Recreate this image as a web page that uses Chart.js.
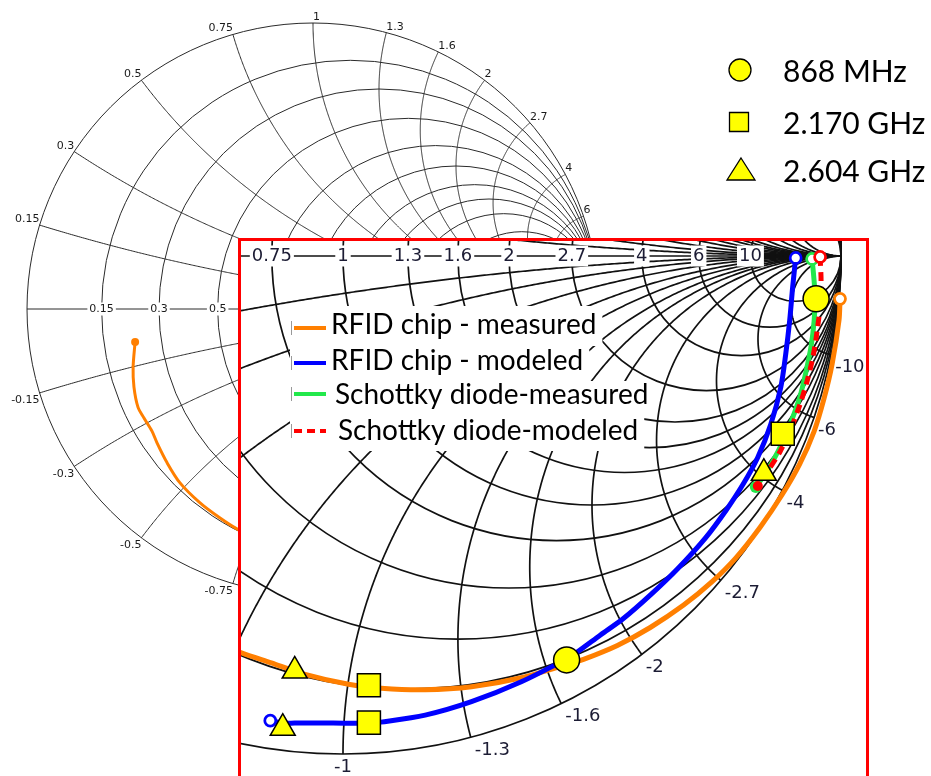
<!DOCTYPE html>
<html><head><meta charset="utf-8">
<script src="https://cdn.jsdelivr.net/npm/chart.js"></script>
<style>
html,body{margin:0;padding:0;background:#fff;overflow:hidden;width:931px;height:776px}
#main{position:absolute;left:0;top:0}
#insetBox{position:absolute;left:238px;top:238px;width:631px;height:560px;border:3px solid #ff0000;box-sizing:border-box;background:#fff;overflow:hidden}
#inset{position:absolute;left:0;top:0}
</style></head><body>
<canvas id="main" width="931" height="776"></canvas>
<div id="insetBox"><canvas id="inset" width="625" height="554"></canvas></div>
<script>
// ---------- data ----------
const resistanceValues = [0.15, 0.3, 0.5, 0.75, 1, 1.3, 1.6, 2, 2.7, 4, 6, 10];
const reactanceValues  = [0.15, 0.3, 0.5, 0.75, 1, 1.3, 1.6, 2, 2.7, 4, 6, 10];
const frequencyLabels = ['868 MHz', '2.170 GHz', '2.604 GHz'];
const seriesNames = ['RFID chip - measured', 'RFID chip - modeled', 'Schottky diode-measured', 'Schottky diode-modeled'];

const rfidMeasRe = [0.998, 0.996, 0.982, 0.966, 0.946, 0.917, 0.882, 0.838, 0.789, 0.740, 0.684, 0.617, 0.551, 0.483, 0.451, 0.358, 0.258, 0.165, 0.077, 0.011, -0.076, -0.144, -0.211, -0.266, -0.325, -0.395, -0.465, -0.510, -0.545, -0.563, -0.591, -0.612, -0.626, -0.629, -0.622];
const rfidMeasIm = [-0.086, -0.129, -0.218, -0.286, -0.352, -0.418, -0.479, -0.544, -0.606, -0.655, -0.701, -0.746, -0.782, -0.810, -0.820, -0.847, -0.865, -0.871, -0.868, -0.860, -0.840, -0.817, -0.794, -0.769, -0.731, -0.678, -0.608, -0.538, -0.469, -0.427, -0.381, -0.343, -0.273, -0.203, -0.115];

const rfidModRe = [0.909, 0.903, 0.897, 0.889, 0.879, 0.859, 0.833, 0.803, 0.769, 0.728, 0.672, 0.618, 0.563, 0.517, 0.471, 0.449, 0.358, 0.258, 0.165, 0.076, 0.052, -0.020, -0.097, -0.121, -0.146];
const rfidModIm = [-0.004, -0.062, -0.129, -0.197, -0.264, -0.338, -0.404, -0.459, -0.511, -0.566, -0.628, -0.680, -0.728, -0.761, -0.795, -0.809, -0.855, -0.895, -0.922, -0.936, -0.938, -0.938, -0.938, -0.938, -0.933];

const schMeasRe = [0.942, 0.946, 0.948, 0.946, 0.940, 0.930, 0.918, 0.902, 0.884, 0.863, 0.843, 0.829];
const schMeasIm = [-0.006, -0.050, -0.086, -0.131, -0.181, -0.231, -0.281, -0.327, -0.371, -0.412, -0.444, -0.464];

const schModRe = [0.958, 0.960, 0.958, 0.952, 0.944, 0.932, 0.918, 0.900, 0.878, 0.853, 0.833];
const schModIm = [-0.002, -0.050, -0.100, -0.151, -0.201, -0.251, -0.297, -0.345, -0.392, -0.432, -0.462];

// frequency markers: [RFID measured, RFID modeled, Schottky]
const m868Re  = [0.449, 0.950];
const m868Im  = [-0.811, -0.086];
const m2170Re = [0.052, 0.052, 0.883];
const m2170Im = [-0.862, -0.937, -0.357];
const m2604Re = [-0.097, -0.121, 0.845];
const m2604Im = [-0.833, -0.948, -0.436];

// ---------- helpers ----------
function pts(re, im) { return re.map((v, i) => ({ x: v, y: im[i] })); }
function gamma(r, x) { const d = (r + 1) * (r + 1) + x * x; return [(r * r - 1 + x * x) / d, 2 * x / d]; }
function fmt(v) { return String(v); }

function gridPlugin(cfg) {
  return {
    id: 'smithGrid',
    beforeDatasetsDraw(chart) {
      const { ctx, chartArea: a, scales } = chart;
      const X = scales.x, Y = scales.y;
      const px = v => X.getPixelForValue(v), py = v => Y.getPixelForValue(v);
      const k = px(1) - px(0);
      ctx.save();
      ctx.beginPath(); ctx.rect(a.left, a.top, a.right - a.left, a.bottom - a.top); ctx.clip();
      ctx.strokeStyle = cfg.gridColor; ctx.lineWidth = cfg.gridWidth;
      ctx.beginPath(); ctx.arc(px(0), py(0), k, 0, Math.PI * 2); ctx.stroke();
      resistanceValues.forEach(r => {
        ctx.beginPath(); ctx.arc(px(r / (1 + r)), py(0), k / (1 + r), 0, Math.PI * 2); ctx.stroke();
      });
      reactanceValues.forEach(xv => [1, -1].forEach(s => {
        ctx.beginPath();
        for (let i = 0; i <= 400; i++) {
          const t = i / 400 * Math.PI / 2 * 0.99995;
          const g = gamma(Math.tan(t), s * xv);
          if (i === 0) ctx.moveTo(px(g[0]), py(g[1])); else ctx.lineTo(px(g[0]), py(g[1]));
        }
        ctx.lineTo(px(1), py(0));
        ctx.stroke();
      }));
      ctx.beginPath(); ctx.moveTo(px(-1), py(0)); ctx.lineTo(px(1), py(0)); ctx.stroke();

      // labels
      ctx.font = cfg.font;
      resistanceValues.forEach(r => {
        const g = (r - 1) / (r + 1); const t = fmt(r);
        const w = ctx.measureText(t).width; const cx = px(g), cy = py(0);
        ctx.fillStyle = '#fff';
        ctx.fillRect(cx - w / 2 - cfg.pad, cy - cfg.boxH / 2, w + 2 * cfg.pad, cfg.boxH);
        ctx.fillStyle = cfg.textColor; ctx.textAlign = 'center'; ctx.textBaseline = 'middle';
        ctx.fillText(t, cx, cy + cfg.midShift);
      });
      reactanceValues.forEach(xv => {
        if (cfg.upper) {
          const g = gamma(0, xv); const x0 = px(g[0]), y0 = py(g[1]);
          ctx.fillStyle = cfg.textColor; ctx.textBaseline = 'alphabetic';
          if (g[0] < -0.02) { ctx.textAlign = 'right'; ctx.fillText(fmt(xv), x0 - cfg.upDx, y0 - cfg.upDy); }
          else { ctx.textAlign = 'left'; ctx.fillText(fmt(xv), x0 + cfg.upDx, y0 - cfg.upDy); }
        }
        const g = gamma(0, -xv); const x0 = px(g[0]), y0 = py(g[1]);
        ctx.fillStyle = cfg.textColor; ctx.textBaseline = 'top';
        const t = '-' + fmt(xv);
        if (g[0] < -0.02) { ctx.textAlign = 'right'; ctx.fillText(t, x0 - cfg.loDx, y0 + cfg.loDy); }
        else if (g[0] < 0.02 && cfg.centerZero) { ctx.textAlign = 'center'; ctx.fillText(t, x0, y0 + cfg.loDy); }
        else { ctx.textAlign = 'left'; ctx.fillText(t, x0 + cfg.loDx, y0 + cfg.loDy); }
      });
      ctx.restore();
    }
  };
}

const freqLegend = {
  id: 'freqLegend',
  afterDraw(chart) {
    const ctx = chart.ctx; ctx.save();
    const rows = [{ y: 70, base: 82 }, { y: 122, base: 134 }, { y: 170, base: 182 }];
    rows.forEach((r, i) => {
      ctx.fillStyle = '#ffff00'; ctx.strokeStyle = '#000'; ctx.lineWidth = 1.3; ctx.beginPath();
      if (i === 0) ctx.arc(740, r.y, 11, 0, 2 * Math.PI);
      else if (i === 1) ctx.rect(729.5, r.y - 9.5, 19, 19);
      else { ctx.moveTo(741, r.y - 12); ctx.lineTo(755, r.y + 10); ctx.lineTo(727, r.y + 10); ctx.closePath(); }
      ctx.fill(); ctx.stroke();
      ctx.fillStyle = '#000'; ctx.font = '30px Lato'; ctx.textAlign = 'left'; ctx.textBaseline = 'alphabetic';
      ctx.fillText(frequencyLabels[i], 783, r.base);
    });
    ctx.restore();
  }
};

const traceColors = ['#ff7f00', '#0000ff', '#22e84b', '#ff0000'];
const seriesLegend = {
  id: 'seriesLegend',
  afterDatasetsDraw(chart) {
    const ctx = chart.ctx; ctx.save();
    const o = 241;
    const rows = [
      { ly: 328, base: 334, tx: 331, top: 306, bot: 346 },
      { ly: 363, base: 370, tx: 331, top: 346, bot: 381 },
      { ly: 394, base: 404, tx: 335, top: 381, bot: 417 },
      { ly: 431, base: 440, tx: 338, top: 417, bot: 451 }
    ];
    ctx.font = '28px Lato';
    rows.forEach((r, i) => {
      const w = ctx.measureText(seriesNames[i]).width;
      ctx.fillStyle = '#fff';
      ctx.fillRect(290 - o, r.top - o, r.tx + w + 6 - 290, r.bot - r.top);
      ctx.strokeStyle = '#999'; ctx.lineWidth = 1; ctx.setLineDash([]);
      ctx.beginPath(); ctx.moveTo(291.5 - o, r.ly - 7 - o); ctx.lineTo(291.5 - o, r.ly + 7 - o); ctx.stroke();
      ctx.strokeStyle = traceColors[i]; ctx.lineWidth = 4;
      ctx.setLineDash(i === 3 ? [8, 5] : []);
      ctx.beginPath(); ctx.moveTo(294 - o, r.ly - o); ctx.lineTo(326 - o, r.ly - o); ctx.stroke();
      ctx.setLineDash([]);
      ctx.fillStyle = '#000'; ctx.textAlign = 'left'; ctx.textBaseline = 'alphabetic';
      ctx.fillText(seriesNames[i], r.tx - o, r.base - o);
    });
    ctx.restore();
  }
};

function traceDataset(idx, re, im, lw, ringR, endR, endRing, dash, order) {
  const n = re.length; const c = traceColors[idx];
  return {
    type: 'scatter', label: seriesNames[idx], showLine: true, data: pts(re, im),
    borderColor: c, backgroundColor: c, borderWidth: lw, borderDash: dash, tension: 0.3,
    pointRadius: ctx => ctx.dataIndex === 0 ? ringR : (ctx.dataIndex === n - 1 ? endR : 0),
    pointBackgroundColor: ctx => (ctx.dataIndex === 0 || (endRing && ctx.dataIndex === n - 1)) ? '#fff' : c,
    pointBorderColor: c,
    pointBorderWidth: ctx => (ctx.dataIndex === 0 || (endRing && ctx.dataIndex === n - 1)) ? Math.max(2, lw * 0.55) : 0,
    order: order
  };
}

function markerDataset(re, im, style, r, order) {
  return {
    type: 'scatter', data: pts(re, im), showLine: false, pointStyle: style, pointRadius: r,
    pointBackgroundColor: '#ffff00', pointBorderColor: '#000', pointBorderWidth: 1.5, order: order
  };
}

function makeChart(id, m, cfg, lw, ringR, endR, extraPlugins) {
  const xmin = (m.left - m.cx) / m.R, xmax = (m.left + m.w - m.cx) / m.R;
  const ymax = (m.cy - m.top) / m.R, ymin = (m.cy - m.top - m.h) / m.R;
  return new Chart(document.getElementById(id), {
    type: 'scatter',
    data: {
      datasets: [
        markerDataset(m868Re, m868Im, 'circle', 13, 1),
        markerDataset(m2170Re, m2170Im, 'rect', 16.3, 2),
        markerDataset(m2604Re, m2604Im, 'triangle', 14.4, 3),
        traceDataset(3, schModRe, schModIm, lw, ringR, ringR - 0.5, false, [lw * 1.8, lw * 1.2], 10),
        traceDataset(2, schMeasRe, schMeasIm, lw, ringR, ringR + 0.5, false, [], 11),
        traceDataset(1, rfidModRe, rfidModIm, lw, ringR, ringR, true, [], 12),
        traceDataset(0, rfidMeasRe, rfidMeasIm, lw, ringR, endR, false, [], 13)
      ]
    },
    options: {
      responsive: false, animation: false, events: [],
      layout: { padding: 0, autoPadding: false },
      scales: {
        x: { type: 'linear', min: xmin, max: xmax, display: false },
        y: { type: 'linear', min: ymin, max: ymax, display: false }
      },
      plugins: { legend: { display: false }, tooltip: { enabled: false } }
    },
    plugins: [gridPlugin(cfg)].concat(extraPlugins)
  });
}

makeChart('main', { cx: 313, cy: 309, R: 286, left: 0, top: 0, w: 931, h: 776 }, {
  gridColor: '#2a2a2a', gridWidth: 1, font: '11px "DejaVu Sans"', textColor: '#1a1a1a',
  pad: 2, boxH: 13, midShift: 0.5, upper: true, upDx: 0, upDy: 3, loDx: 0, loDy: 2, centerZero: false
}, 3, 3.5, 4, [freqLegend]);

makeChart('inset', { cx: 343, cy: 256, R: 498, left: 241, top: 241, w: 625, h: 554 }, {
  gridColor: '#111', gridWidth: 1.7, font: '18px "DejaVu Sans"', textColor: '#1c1c34',
  pad: 2, boxH: 21, midShift: 0.5, upper: false, upDx: 0, upDy: 3, loDx: 4, loDy: 4, centerZero: true
}, 5, 5.5, 5, [seriesLegend]);
</script>
</body></html>
